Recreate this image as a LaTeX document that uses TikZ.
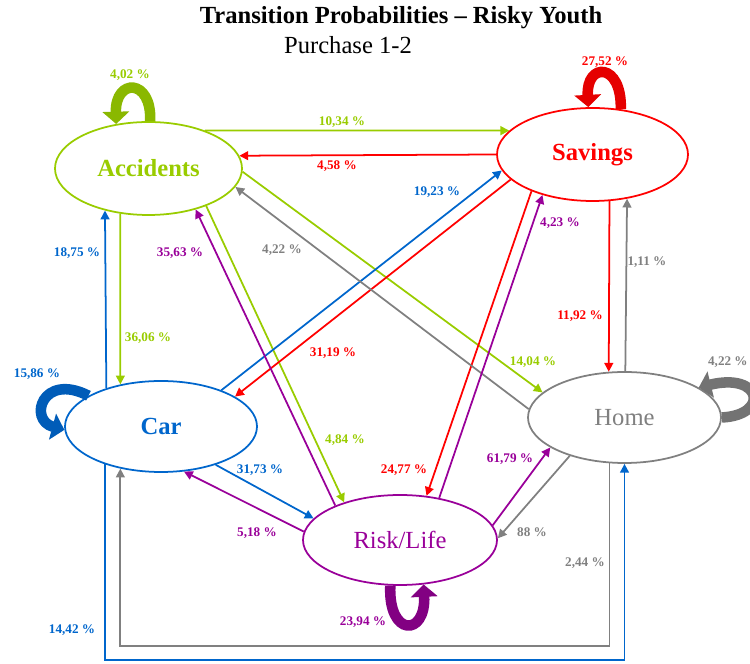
\documentclass[tikz,border=0pt]{standalone}
\usepackage{fontspec}
\setmainfont{Liberation Serif}
\usepackage{tikz}
\usetikzlibrary{arrows.meta,shapes.geometric}

\definecolor{accgreen}{RGB}{153,204,0}
\definecolor{savred}{RGB}{255,0,0}
\definecolor{carblue}{RGB}{0,102,204}
\definecolor{homegray}{RGB}{128,128,128}
\definecolor{riskpurple}{RGB}{153,0,153}

\begin{document}
\begin{tikzpicture}[
  x=0.2mm, y=-0.2mm,
  statenode/.style={draw, ellipse, line width=1pt, inner sep=0pt, font=\fontsize{14}{16}\selectfont},
  trans/.style={-{Triangle[length=5pt,width=5pt]}, line width=1pt},
  selfloop/.style={-{Triangle[length=7pt,width=15pt]}, line width=6pt},
  prob/.style={inner sep=0pt, font=\fontsize{7.5}{9}\selectfont\bfseries}
]
  \useasboundingbox (0,0) rectangle (750,664);

  % title
  \node[font=\fontsize{14}{16}\selectfont\bfseries] (title) at (401,18) {Transition Probabilities -- Risky Youth};
  \node[font=\fontsize{14}{16}\selectfont] (subtitle) at (348,45) {Purchase 1-2};

  % states
  \node[statenode, accgreen, minimum width=37.4mm, minimum height=18.6mm, font=\fontsize{14}{16}\selectfont\bfseries] (accidents) at (148.5,168.5) {Accidents};
  \node[statenode, savred, minimum width=38.2mm, minimum height=18.6mm, font=\fontsize{14}{16}\selectfont\bfseries] (savings) at (592.5,154.5) {Savings};
  \node[statenode, carblue, minimum width=38.4mm, minimum height=18.2mm, font=\fontsize{14}{16}\selectfont\bfseries] (car) at (161,426.5) {Car};
  \node[statenode, homegray, minimum width=38.6mm, minimum height=18.2mm] (home) at (624.5,417.5) {Home};
  \node[statenode, riskpurple, minimum width=38.8mm, minimum height=18mm] (risk) at (400,540) {Risk/Life};

  % self loops
  \draw[selfloop, accgreen!90!black] (accidents.88) .. controls (152,78) and (115,78) .. (accidents.126);
  \draw[selfloop, savred!90!black] (savings.58) .. controls (622,62) and (586,62) .. (savings.95);
  \draw[selfloop, carblue!90!black] (car.157) .. controls (42,372) and (28,420) .. (car.182);
  \draw[selfloop, homegray!90!black] (home.0) .. controls (770,415) and (762,372) .. (home.22);
  \draw[selfloop, riskpurple!85!black] (risk.258) .. controls (388,637) and (426,637) .. (risk.298);

  % helper coordinates for the bottom routes
  \coordinate (bluebottom) at (0,660);
  \coordinate (graybottom) at (0,646);

  % from accidents
  \draw[trans, accgreen] (accidents.34.2) -- (savings.164.1);
  \draw[trans, accgreen] (accidents.238.2) -- (car.134);
  \draw[trans, accgreen] (accidents.-2) -- (home.163.8);
  \draw[trans, accgreen] (accidents.-33.1) -- (risk.146.3);

  % from savings
  \draw[trans, savred] (savings.180) -- (accidents.8.6);
  \draw[trans, savred] (savings.197.6) -- (car.22.5);
  \draw[trans, savred] (savings.211.2) -- (risk.59);
  \draw[trans, savred] (savings.-70.2) -- (home.109);

  % from car
  \draw[trans, carblue] (car.145.9) -- (accidents.224.2);
  \draw[trans, carblue] (car.31.3) -- (savings.190.2);
  \draw[trans, carblue] (car.-35.8) -- (risk.166);
  \draw[trans, carblue] (car.214.1) -- (car.214.1 |- bluebottom) -| (home.south);

  % from home
  \draw[trans, homegray] (home.175.6) -- (accidents.-12.4);
  \draw[trans, homegray] (home.89) -- (savings.-52.4);
  \draw[trans, homegray] (home.215.4) -- (risk.1.8);
  \draw[trans, homegray] (home.252.1) -- (home.252.1 |- graybottom) -| (car.226);

  % from risk/life
  \draw[trans, riskpurple] (risk.152.8) -- (accidents.-41);
  \draw[trans, riskpurple] (risk.47) -- (savings.219);
  \draw[trans, riskpurple] (risk.175.8) -- (car.297.3);
  \draw[trans, riskpurple] (risk.9.5) -- (home.202.8);

  % probabilities
  \node[prob, accgreen] (pacc) at (130,75) {4,02 \%};
  \node[prob, accgreen] (paccsav) at (342,122) {10,34 \%};
  \node[prob, accgreen] (pacccar) at (148,338) {36,06 \%};
  \node[prob, accgreen] (pacchome) at (533,362) {14,04 \%};
  \node[prob, accgreen] (paccrisk) at (345,440) {4,84 \%};

  \node[prob, savred] (psav) at (605,62) {27,52 \%};
  \node[prob, savred] (psavacc) at (337,166) {4,58 \%};
  \node[prob, savred] (psavcar) at (333,353) {31,19 \%};
  \node[prob, savred] (psavrisk) at (404,470) {24,77 \%};
  \node[prob, savred] (psavhome) at (580,316) {11,92 \%};

  \node[prob, carblue] (pcar) at (37,374) {15,86 \%};
  \node[prob, carblue] (pcaracc) at (77,253) {18,75 \%};
  \node[prob, carblue] (pcarsav) at (437,192) {19,23 \%};
  \node[prob, carblue] (pcarrisk) at (260,470) {31,73 \%};
  \node[prob, carblue] (pcarhome) at (72,630) {14,42 \%};

  \node[prob, homegray, anchor=east] (phome) at (748,362) {4,22 \%};
  \node[prob, homegray] (phomeacc) at (282,250) {4,22 \%};
  \node[prob, homegray] (phomesav) at (647,262) {1,11 \%};
  \node[prob, homegray] (phomerisk) at (532,532) {88 \%};
  \node[prob, homegray] (phomecar) at (585,563) {2,44 \%};

  \node[prob, riskpurple] (prisk) at (363,622) {23,94 \%};
  \node[prob, riskpurple] (priskacc) at (180,253) {35,63 \%};
  \node[prob, riskpurple] (prisksav) at (560,223) {4,23 \%};
  \node[prob, riskpurple] (priskcar) at (257,533) {5,18 \%};
  \node[prob, riskpurple] (priskhome) at (510,459) {61,79 \%};
\end{tikzpicture}
\end{document}
